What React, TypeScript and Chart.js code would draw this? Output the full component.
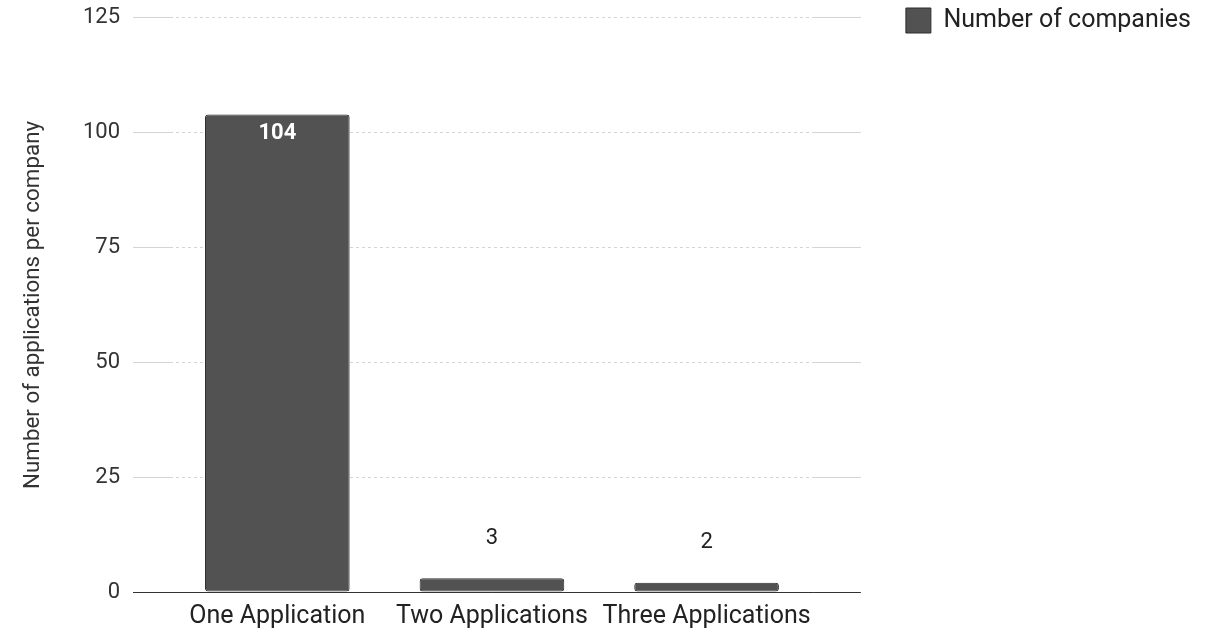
import React, { useEffect, useRef } from "react";
import { Chart, registerables } from "chart.js";

Chart.register(...registerables);

const categories = ["One Application", "Two Applications", "Three Applications"];
const companyCounts = [104, 3, 2];
const seriesLabel = "Number of companies";
const yTickValues = [0, 25, 50, 75, 100, 125];
const yAxisTitle = "Number of applications per company";

const FONT = "Roboto, 'Noto Sans', sans-serif";

const valueLabels = {
  id: "valueLabels",
  afterDatasetsDraw(chart: any) {
    const ctx = chart.ctx;
    const meta = chart.getDatasetMeta(0);
    const ds = chart.data.datasets[0];
    ctx.save();
    ctx.textAlign = "center";
    ctx.textBaseline = "middle";
    meta.data.forEach((bar: any, i: number) => {
      const v = ds.data[i];
      const { x, y, base } = bar.getProps(["x", "y", "base"], true);
      const h = base - y;
      if (h > 60) {
        ctx.font = `bold 22px ${FONT}`;
        ctx.fillStyle = "#ffffff";
        ctx.fillText(String(v), x, y + 19);
      } else {
        ctx.font = `22px ${FONT}`;
        ctx.fillStyle = "#222222";
        ctx.fillText(String(v), x, y - 40);
      }
    });
    ctx.restore();
  },
};

const gridColor = (c: any) => (c.tick && c.tick.value === 0 ? "#333333" : "#d4d4d4");
const gridDash = (c: any) => (c.tick && c.tick.value === 0 ? [] : [3, 3]);

export default function App() {
  const canvasRef = useRef<HTMLCanvasElement | null>(null);

  useEffect(() => {
    if (!canvasRef.current) return;
    const chart = new Chart(canvasRef.current, {
      type: "bar",
      data: {
        labels: categories,
        datasets: [
          {
            label: seriesLabel,
            data: companyCounts,
            backgroundColor: "#525252",
            borderColor: "#2e2e2e",
            borderWidth: 1,
            borderRadius: 3,
            borderSkipped: false,
            barPercentage: 0.674,
            categoryPercentage: 1,
            yAxisID: "y",
          },
        ],
      },
      options: {
        animation: false,
        responsive: true,
        maintainAspectRatio: false,
        layout: { padding: { top: 0, right: 6, bottom: -6, left: 0 } },
        plugins: {
          legend: {
            position: "right",
            align: "start",
            maxWidth: 400,
            labels: {
              boxWidth: 25,
              boxHeight: 25,
              padding: 8,
              color: "#222222",
              font: { family: FONT, size: 25 },
            },
          },
          tooltip: { enabled: false },
        },
        scales: {
          x: {
            grid: { display: false, drawTicks: false },
            border: { display: false },
            ticks: {
              padding: 12,
              color: "#222222",
              font: { family: FONT, size: 25, lineHeight: 1.04 },
            },
          },
          y: {
            position: "left",
            min: 0,
            max: 125,
            afterBuildTicks: (s: any) => {
              s.ticks = yTickValues.map((v) => ({ value: v }));
            },
            afterFit: (s: any) => {
              s.width = 170;
            },
            grid: {
              color: gridColor,
              tickColor: gridColor,
              tickLength: 37,
              lineWidth: 1,
            },
            border: { display: false, dash: gridDash },
            ticks: {
              padding: 13,
              color: "#333333",
              font: { family: FONT, size: 22, lineHeight: 0.45 },
            },
            title: {
              display: true,
              text: yAxisTitle,
              color: "#333333",
              font: { family: FONT, size: 22.4 },
              padding: { top: 20, bottom: 0 },
            },
          },
          y2: {
            position: "right",
            min: 0,
            max: 125,
            afterBuildTicks: (s: any) => {
              s.ticks = yTickValues.map((v) => ({ value: v }));
            },
            afterFit: (s: any) => {
              s.width = 84;
            },
            grid: {
              drawOnChartArea: false,
              color: gridColor,
              tickColor: gridColor,
              tickLength: 47,
            },
            border: { display: false, dash: gridDash },
            ticks: { display: false },
          },
        },
      },
      plugins: [valueLabels],
    } as any);
    return () => chart.destroy();
  }, []);

  return (
    <div style={{ position: "fixed", left: 0, top: 0, width: 1207, height: 636, background: "#fff" }}>
      <canvas ref={canvasRef} />
    </div>
  );
}
